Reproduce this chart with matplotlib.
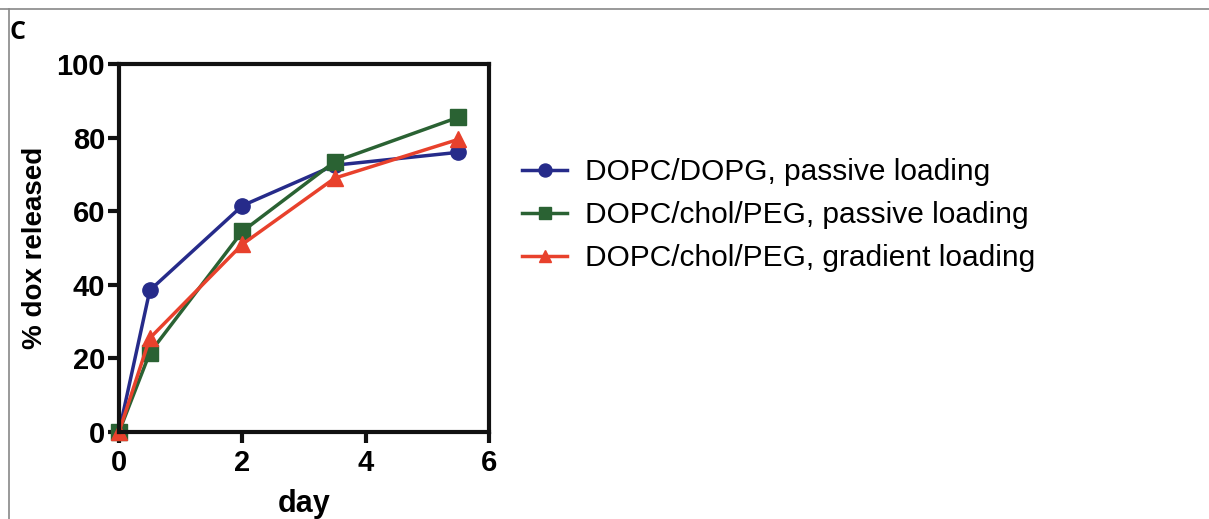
import matplotlib.pyplot as plt
from matplotlib.lines import Line2D

plt.rcParams['font.family'] = ['Liberation Sans', 'DejaVu Sans']

# release data
days = [0, 0.5, 2, 3.5, 5.5]
dopg_passive = [0, 38.5, 61.5, 72.5, 76]
chol_passive = [0, 21.5, 54.5, 73.5, 85.5]
chol_gradient = [0, 25.5, 51, 69, 79.5]

labels = ["DOPC/DOPG, passive loading",
          "DOPC/chol/PEG, passive loading",
          "DOPC/chol/PEG, gradient loading"]
colors = ["#262b8a", "#2a6233", "#e8412c"]
markers = ["o", "s", "^"]

fig = plt.figure(figsize=(12.09, 5.19), dpi=100)
ax = fig.add_axes([0.0984, 0.1676, 0.3061, 0.7091])

for ys, lab, c, m in zip([dopg_passive, chol_passive, chol_gradient], labels, colors, markers):
    ax.plot(days, ys, color=c, marker=m, markersize=11, linewidth=2.5, label=lab, clip_on=False)

ax.set_xlim(0, 6)
ax.set_ylim(0, 100)
ax.set_xticks([0, 2, 4, 6])
ax.set_yticks([0, 20, 40, 60, 80, 100])
for s in ax.spines.values():
    s.set_linewidth(3)
    s.set_color("#111111")
ax.tick_params(width=3, length=8, labelsize=21, color="#111111", pad=2)
ax.tick_params(axis="x", pad=4)
for t in ax.get_xticklabels() + ax.get_yticklabels():
    t.set_fontweight("bold")
ax.set_xlabel("day", fontsize=22, fontweight="bold", labelpad=9)
ax.set_ylabel("% dox released", fontsize=20, fontweight="bold", labelpad=6)

fig.legend(loc="upper left", bbox_to_anchor=(0.432, 0.695), frameon=False,
           fontsize=21.5, handlelength=1.5, handletextpad=0.6, labelspacing=0.5,
           borderpad=0, borderaxespad=0, markerscale=0.85)

# panel letter and frame
fig.text(0.008, 0.925, "C", fontsize=18, fontweight="bold", family=["Open Sans", "DejaVu Sans"])
fig.add_artist(Line2D([0, 1], [0.983, 0.983], color="#888888", linewidth=1.2))
fig.add_artist(Line2D([0.0075, 0.0075], [0, 0.983], color="#888888", linewidth=1.2))

fig.savefig("out.png", dpi=100)
